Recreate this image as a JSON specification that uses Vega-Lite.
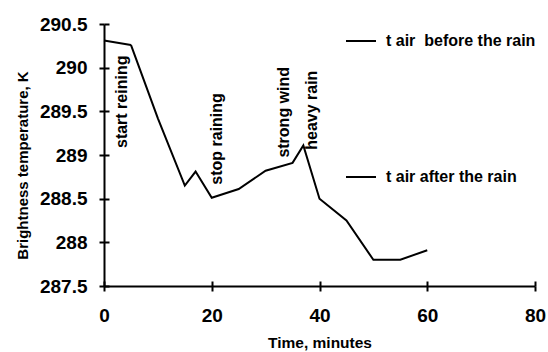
{
  "$schema": "https://vega.github.io/schema/vega-lite/v6.json",
  "width": 431,
  "height": 262,
  "autosize": {"type": "none"},
  "padding": {"left": 104, "top": 24, "right": 13, "bottom": 66},
  "background": "white",
  "config": {
    "view": {"stroke": null},
    "font": "Liberation Sans",
    "axis": {
      "grid": false,
      "domainColor": "black",
      "domainWidth": 2,
      "tickColor": "black",
      "tickWidth": 2,
      "tickSize": 5,
      "labelFont": "Liberation Sans",
      "labelFontSize": 19,
      "labelFontWeight": "bold",
      "labelColor": "black",
      "labelFlush": false,
      "labelOverlap": false,
      "titleFont": "Liberation Sans",
      "titleFontSize": 15,
      "titleFontWeight": "bold",
      "titleColor": "black"
    }
  },
  "resolve": {"axis": {"x": "independent", "y": "independent"}},
  "datasets": {
    "series": [
      {"time": 0, "temp": 290.31, "series": "t air\u00a0 before the rain"},
      {"time": 5, "temp": 290.26, "series": "t air\u00a0 before the rain"},
      {"time": 5, "temp": 290.26, "series": "t air after the rain"},
      {"time": 10, "temp": 289.42, "series": "t air after the rain"},
      {"time": 15, "temp": 288.65, "series": "t air after the rain"},
      {"time": 17, "temp": 288.81, "series": "t air after the rain"},
      {"time": 20, "temp": 288.51, "series": "t air after the rain"},
      {"time": 25, "temp": 288.61, "series": "t air after the rain"},
      {"time": 30, "temp": 288.82, "series": "t air after the rain"},
      {"time": 35, "temp": 288.91, "series": "t air after the rain"},
      {"time": 37, "temp": 289.11, "series": "t air after the rain"},
      {"time": 40, "temp": 288.5, "series": "t air after the rain"},
      {"time": 45, "temp": 288.25, "series": "t air after the rain"},
      {"time": 50, "temp": 287.8, "series": "t air after the rain"},
      {"time": 55, "temp": 287.8, "series": "t air after the rain"},
      {"time": 60, "temp": 287.91, "series": "t air after the rain"}
    ],
    "notes": [
      {"time": 3.3, "temp": 289.08, "label": "start reining"},
      {"time": 20.9, "temp": 288.66, "label": "stop raining"},
      {"time": 33.4, "temp": 288.97, "label": "strong wind"},
      {"time": 38.55, "temp": 289.06, "label": "heavy rain"}
    ]
  },
  "layer": [
    {
      "data": {"name": "series"},
      "mark": {"type": "line", "strokeWidth": 2},
      "encoding": {
        "x": {
          "field": "time",
          "type": "quantitative",
          "scale": {"domain": [0, 80], "nice": false},
          "axis": {
            "orient": "bottom",
            "title": "Time, minutes",
            "titleFontSize": 15.5,
            "values": [0, 20, 40, 60, 80],
            "labelPadding": 15,
            "titleBaseline": "alphabetic",
            "titleY": 61
          }
        },
        "y": {
          "field": "temp",
          "type": "quantitative",
          "scale": {"domain": [287.5, 290.5], "nice": false, "zero": false},
          "axis": {
            "orient": "left",
            "title": "Brightness temperature, K",
            "values": [287.5, 288, 288.5, 289, 289.5, 290, 290.5],
            "format": "~f",
            "labelPadding": 12,
            "titleX": -82,
            "titleY": 141,
            "titleAngle": -90,
            "titleAlign": "center",
            "titleBaseline": "middle"
          }
        },
        "color": {
          "field": "series",
          "type": "nominal",
          "scale": {
            "domain": ["t air\u00a0 before the rain", "t air after the rain"],
            "range": ["black", "black"]
          },
          "legend": {
            "orient": "none",
            "legendX": 241,
            "legendY": 1,
            "title": null,
            "padding": 0,
            "symbolType": "stroke",
            "symbolSize": 900,
            "symbolStrokeWidth": 2,
            "rowPadding": 112,
            "labelOffset": 9,
            "labelFont": "Liberation Sans",
            "labelFontSize": 16,
            "labelFontWeight": "bold",
            "labelColor": "black",
            "labelLimit": 300
          }
        }
      }
    },
    {
      "data": {"name": "notes"},
      "mark": {
        "type": "text",
        "angle": 270,
        "align": "left",
        "baseline": "middle",
        "font": "Liberation Sans",
        "fontSize": 16,
        "fontWeight": "bold",
        "color": "black"
      },
      "encoding": {
        "x": {
          "field": "time",
          "type": "quantitative",
          "axis": {
            "orient": "bottom",
            "values": [0, 20, 40, 60, 80],
            "tickSize": -5,
            "labels": false,
            "domain": false,
            "title": null
          }
        },
        "y": {
          "field": "temp",
          "type": "quantitative",
          "axis": {
            "orient": "left",
            "values": [287.5, 288, 288.5, 289, 289.5, 290, 290.5],
            "tickSize": -5,
            "labels": false,
            "domain": false,
            "title": null
          }
        },
        "text": {"field": "label"}
      }
    }
  ]
}
